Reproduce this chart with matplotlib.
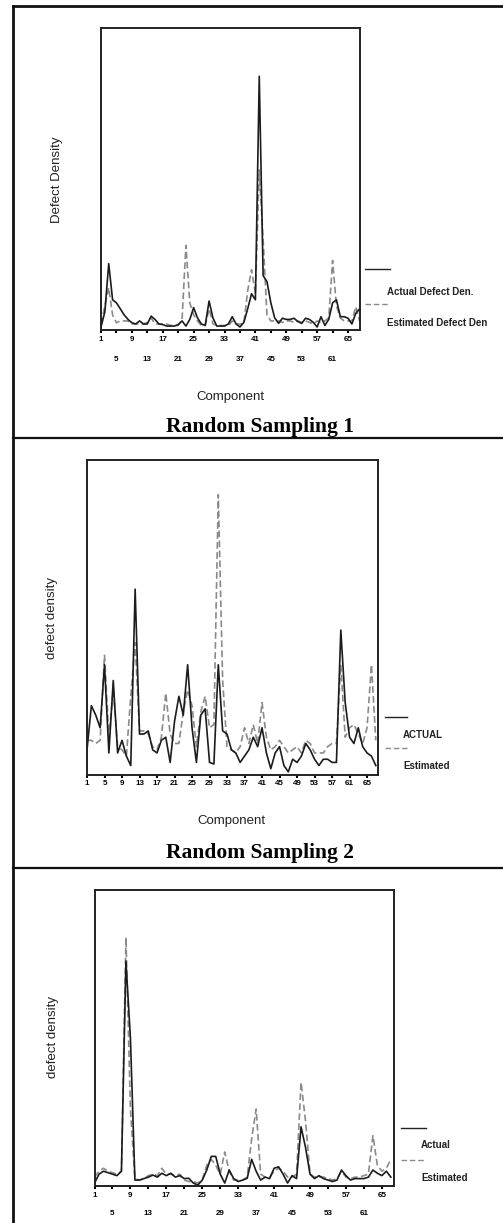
import numpy as np
import matplotlib
matplotlib.use('Agg')
import matplotlib.pyplot as plt
from matplotlib.lines import Line2D

# Defect density per component (% of axis height)
actual1 = [1, 6, 22, 10, 9, 7, 5, 3.5, 2.4, 2, 3, 2, 2, 4.6, 3.5, 2, 1.8, 1.3, 1.3, 1.3,
           1.8, 3, 1.3, 3.5, 7.4, 4, 2, 1.5, 9.6, 4, 1.3, 1.3, 1.3, 2, 4.4, 2, 1, 2.5, 7, 12,
           10, 84, 18, 16, 9, 4, 2.2, 3.9, 3.5, 3.5, 3.9, 2.8, 2.2, 3.9, 3.5, 2.5, 1, 4.4, 1.5, 3.5,
           9, 10, 4.4, 4.4, 3.9, 2, 5.5, 7]
estimated1 = [2, 8, 14, 5, 2.4, 3, 3, 3, 2, 2, 2, 2, 2.5, 4, 2, 2, 2, 2, 1.5, 1.5,
              1.5, 3.5, 28, 9, 5, 3, 1.5, 1.5, 7, 2, 1.5, 1.5, 1.5, 1.5, 3, 2, 2, 2, 13, 20,
              12, 53, 30, 5, 3, 3, 3, 2.5, 3, 3, 2.5, 3, 2.5, 3, 2.5, 2, 3, 2.5, 3, 4,
              23, 8, 4, 3, 3, 3, 7.7, 3]

actual2 = [8, 22, 19, 15, 35, 7, 30, 7, 11, 6, 3, 59, 13, 13, 14, 8, 7, 11, 12, 4,
           17, 25, 19, 35, 15, 4, 19, 21, 4, 3.5, 35, 14, 13, 8, 7, 4, 6, 8, 12, 9,
           15, 7, 2, 7, 9, 3, 1, 5, 4, 6, 10, 8, 5, 3, 5, 5, 4, 4, 46, 23,
           12, 10, 15, 9, 7, 6, 3]
estimated2 = [11, 11, 10, 11, 38, 12, 27, 9, 8, 6, 25, 42, 14, 14, 13, 9, 8, 12, 26, 13,
              10, 10, 20, 27, 22, 9, 20, 25, 15, 16, 89, 30, 9, 8, 7, 9, 15, 10, 16, 10,
              23, 12, 8, 9, 11, 9, 7, 8, 9, 7, 11, 10, 7, 7, 7, 9, 10, 10, 35, 12,
              15, 16, 13, 10, 15, 35, 11]

actual3 = [1, 4, 5, 4.5, 4, 3.5, 5, 76, 50, 2, 2, 2.5, 3, 3.7, 3, 4.3, 3.5, 4.3, 3, 3.5,
           2.5, 2.6, 1, 0.3, 2, 5.4, 10, 10, 4, 1, 5.4, 2.5, 1.5, 2, 2.6, 9, 5, 2, 3, 2.5,
           6, 6.5, 4, 1, 3.5, 2.5, 20, 13, 4, 2.5, 3.5, 2.5, 2, 1.5, 2, 5.4, 3.5, 2, 2.5, 2.5,
           2.5, 3, 5.4, 4.3, 3.5, 5, 3]
estimated3 = [3, 5, 6, 5, 4.5, 4, 5, 84, 26, 2.5, 2, 2.5, 3.5, 4, 3.5, 6, 4, 4, 3.5, 4,
              2, 1.5, 1.5, 1, 2, 7, 9, 7, 4, 11.5, 5, 2, 2, 2, 3, 16, 26, 4, 3, 3,
              5, 6, 5, 3, 3, 4, 35, 22, 4, 3, 3, 3, 2.5, 2, 2.5, 5, 3, 2.5, 3, 3,
              3.5, 4, 17, 7, 5, 6, 9]

ylabels = ['Defect Density', 'defect density', 'defect density']
legend_labels = [('Actual Defect Den.', 'Estimated Defect Den'),
                 ('ACTUAL', 'Estimated'),
                 ('Actual', 'Estimated')]
titles = ['Random Sampling 1', 'Random Sampling 2']
row1_ticks = list(range(1, 66, 8))
row2_ticks = list(range(5, 62, 8))
all_ticks = list(range(1, 66, 4))

W, H = 503, 1223
fig = plt.figure(figsize=(W / 100.0, H / 100.0), dpi=100)

def fx(x):
	return x / float(W)

def fy(y):
	return 1 - y / float(H)

def hline(x0, x1, y, lw=1.6, color='#111111', ls='-'):
	fig.add_artist(Line2D([fx(x0), fx(x1)], [fy(y), fy(y)], transform=fig.transFigure,
	                      color=color, lw=lw, linestyle=ls))

# outer frame and panel separators
hline(13, 503, 6, lw=2)
fig.add_artist(Line2D([fx(13), fx(13)], [fy(6), fy(H)], transform=fig.transFigure,
                      color='#111111', lw=2))
hline(13, 503, 438, lw=1.6)
hline(13, 503, 868, lw=1.6)

# (left, right, top, bottom, xmax) in pixels
boxes = [(101, 360, 28, 330, 68.1),
         (87, 378, 460, 775, 67.5),
         (94.5, 394, 890, 1186, 67.7)]
series = [(actual1, estimated1), (actual2, estimated2), (actual3, estimated3)]
ylabel_pos = [(57, 180), (52, 618), (53, 1037)]
# legend: x0, x1 of keys, y of solid, y of dashed, label x, label y1, label y2
legend_pos = [(365, 390, 269, 304, 387, 292, 323),
              (385, 407, 717, 748, 403, 735, 766),
              (401, 426, 1128, 1160, 421, 1145, 1178)]

tick_font = dict(fontsize=5.8, fontweight='bold', family='Liberation Sans')

for i in range(3):
	l, r, t, b, xmax = boxes[i]
	ax = fig.add_axes([fx(l), fy(b), (r - l) / float(W), (b - t) / float(H)])
	act, est = series[i]
	x = np.arange(1, len(act) + 1)
	ax.plot(x, est, color='#8a8a8a', lw=1.2, dashes=(4, 2))
	ax.plot(x, act, color='#1c1c1c', lw=1.2)
	ax.set_xlim(1, xmax)
	ax.set_ylim(0, 100)
	ax.set_yticks([])
	for s in ax.spines.values():
		s.set_linewidth(1.4)
		s.set_color('#222222')

	if i == 1:
		ax.set_xticks(all_ticks)
		ax.set_xticklabels([str(v) for v in all_ticks], **tick_font)
		ax.tick_params(axis='x', direction='out', length=2.5, width=1.5, pad=0.8)
	else:
		pad2 = 16.0 if i == 0 else 14.6
		ax.set_xticks(row1_ticks)
		ax.set_xticklabels([str(v) for v in row1_ticks], **tick_font)
		ax.set_xticks(row2_ticks, minor=True)
		ax.set_xticklabels([str(v) for v in row2_ticks], minor=True, **tick_font)
		ax.tick_params(axis='x', which='major', direction='out', length=2.5, width=1.5, pad=1.8)
		ax.tick_params(axis='x', which='minor', direction='out', length=2.5, width=1.5, pad=pad2)

	yx, yy = ylabel_pos[i]
	fig.text(fx(yx), fy(yy), ylabels[i], rotation=90, ha='center', va='center',
	         fontsize=9.5, family='Liberation Sans', color='#222222')

	k0, k1, ys, yd, lx, ly1, ly2 = legend_pos[i]
	hline(k0, k1, ys, lw=1.0, color='#222222')
	hline(k0, k1, yd, lw=1.0, color='#8a8a8a', ls=(0, (4, 2)))
	fig.text(fx(lx), fy(ly1), legend_labels[i][0], ha='left', va='center',
	         fontsize=7, fontweight='bold', family='Liberation Sans', color='#222222')
	fig.text(fx(lx), fy(ly2), legend_labels[i][1], ha='left', va='center',
	         fontsize=7, fontweight='bold', family='Liberation Sans', color='#222222')

# x axis titles and panel captions
fig.text(fx(230), fy(397), 'Component', ha='center', va='center', fontsize=9.5,
         family='Liberation Sans', color='#222222')
fig.text(fx(231), fy(821), 'Component', ha='center', va='center', fontsize=9.5,
         family='Liberation Sans', color='#222222')
fig.text(fx(260), fy(427), titles[0], ha='center', va='center', fontsize=15.5,
         fontweight='bold', family='Liberation Serif')
fig.text(fx(260), fy(853), titles[1], ha='center', va='center', fontsize=15.5,
         fontweight='bold', family='Liberation Serif')

fig.savefig('out.png', dpi=100)
